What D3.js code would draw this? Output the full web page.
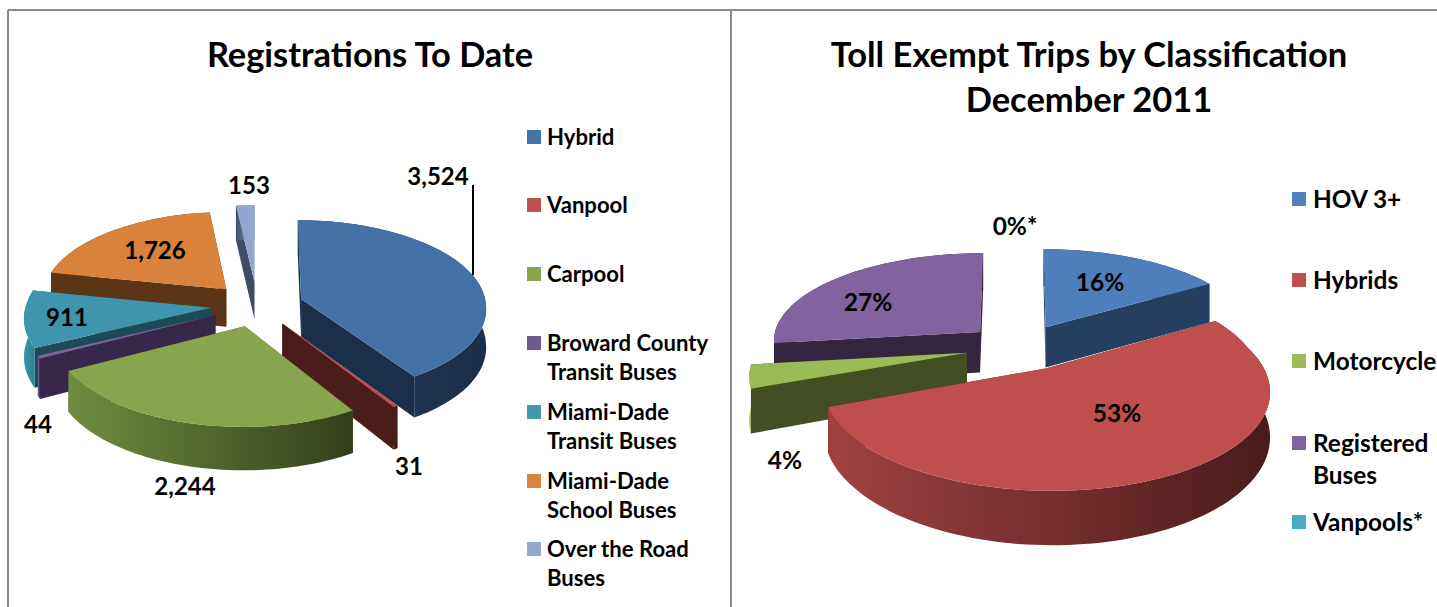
<!DOCTYPE html>
<html>
<head>
<meta charset="utf-8">
<script src="https://cdn.jsdelivr.net/npm/d3@7"></script>
<style>
    body { margin: 0; background: #fff; overflow: hidden; }
    text { font-family: Lato, "Open Sans", sans-serif; font-weight: 700; fill: #000; }
</style>
</head>
<body>
<div id="chart"></div>
<script>
// left chart data
const regCategories = ["Hybrid", "Vanpool", "Carpool", "Broward County|Transit Buses", "Miami-Dade|Transit Buses", "Miami-Dade|School Buses", "Over the Road|Buses"];
const regValues = [3524, 31, 2244, 44, 911, 1726, 153];
const regLabels = ["3,524", "31", "2,244", "44", "911", "1,726", "153"];

// right chart data
const tripCategories = ["HOV 3+", "Hybrids", "Motorcycle", "Registered|Buses", "Vanpools*"];
const tripValues = [16, 53, 4, 27, 0];
const tripLabels = ["16%", "53%", "4%", "27%", "0%*"];

var svg = d3.select("#chart").append("svg").attr("width", 1437).attr("height", 607).style("display", "block");
var defs = svg.append("defs");
var gradCount = 0;

// frame
function frameLine(x1, y1, x2, y2) {
    svg.append("line").attr("x1", x1).attr("y1", y1).attr("x2", x2).attr("y2", y2)
        .attr("stroke", "#8a8a8a").attr("stroke-width", 2);
}
frameLine(8, 10, 1437, 10);
frameLine(8, 10, 8, 607);
frameLine(731, 10, 731, 607);

function title(lines, x, ys, size) {
    lines.forEach(function (t, i) {
        svg.append("text").attr("x", x).attr("y", ys[i]).attr("text-anchor", "middle")
            .style("font-size", size + "px").text(t);
    });
}
title(["Registrations To Date"], 370, [67], 34.4);
title(["Toll Exempt Trips by Classification", "December 2011"], 1089, [67, 112], 34.5);

function drawPie(values, labels, cfg) {
    var slices = d3.pie().value(d => d).sort(null)(values);

    var xScale = d3.scaleLinear().domain([-1, 1]).range([cfg.cx - cfg.rx, cfg.cx + cfg.rx]);
    var yScale = d3.scaleLinear().domain([-1, 1]).range([cfg.cy - cfg.ry, cfg.cy + cfg.ry]);
    var line = d3.line().x(d => d[0]).y(d => d[1]);

    // disk position to screen, near side is larger
    function project(u, v, down, nudge) {
        var k = v >= 0 ? 1 / (1 - cfg.pNear * v) : 1 / (1 - cfg.pFar * v);
        return [xScale(u * k), yScale(v * k) + down * k + nudge];
    }

    var order = d3.range(slices.length)
        .filter(i => slices[i].value > 0)
        .sort((a, b) => -Math.cos((slices[a].startAngle + slices[a].endAngle) / 2) + Math.cos((slices[b].startAngle + slices[b].endAngle) / 2));

    var g = svg.append("g");

    order.forEach(function (i) {
        var s = slices[i];
        var mid = (s.startAngle + s.endAngle) / 2;
        var u0 = Math.sin(mid) * cfg.explode;
        var v0 = -Math.cos(mid) * cfg.explode;
        var nudge = cfg.nudge[i];

        var steps = Math.max(2, Math.ceil((s.endAngle - s.startAngle) / 0.03));
        var angles = d3.range(steps + 1).map(j => s.startAngle + (s.endAngle - s.startAngle) * j / steps);

        function rim(down) {
            return angles.map(a => project(u0 + Math.sin(a), v0 - Math.cos(a), down, nudge));
        }
        var apexTop = project(u0, v0, 0, nudge);
        var apexBot = project(u0, v0, cfg.depth, nudge);
        var rimTop = rim(0);
        var rimBot = rim(cfg.depth);

        // two radial walls
        [0, rimTop.length - 1].forEach(function (e) {
            g.append("path")
                .attr("d", line([apexTop, rimTop[e], rimBot[e], apexBot]) + "Z")
                .attr("fill", cfg.wall[i]);
        });

        // outer wall with a left to right shade
        var id = "shade" + (gradCount++);
        var grad = defs.append("linearGradient").attr("id", id);
        grad.append("stop").attr("offset", "0%").attr("stop-color", cfg.outer[i][0]);
        grad.append("stop").attr("offset", "100%").attr("stop-color", cfg.outer[i][1]);
        g.append("path")
            .attr("d", line(rimTop.concat(rimBot.slice().reverse())) + "Z")
            .attr("fill", "url(#" + id + ")");

        // top
        g.append("path")
            .attr("d", line([apexTop].concat(rimTop)) + "Z")
            .attr("fill", cfg.top[i]);
    });

    // value labels
    labels.forEach(function (t, i) {
        svg.append("text").attr("x", cfg.labelX[i]).attr("y", cfg.labelY[i])
            .attr("text-anchor", "middle").attr("dy", "0.35em")
            .style("font-size", cfg.labelSize + "px").text(t);
    });
}

function drawLegend(categories, colors, x, ys, size, textGap, lineGap) {
    categories.forEach(function (c, i) {
        var parts = c.split("|");
        svg.append("rect").attr("x", x).attr("y", ys[i] - 7).attr("width", 14).attr("height", 14).attr("fill", colors[i]);
        parts.forEach(function (p, j) {
            svg.append("text").attr("x", x + textGap).attr("y", ys[i] + j * lineGap).attr("dy", "0.35em")
                .style("font-size", size + "px").text(p);
        });
    });
}

const regColors = ["#4572a7", "#c0504d", "#89a54e", "#71588f", "#4198af", "#db843d", "#93a9cf"];
drawPie(regValues, regLabels, {
    cx: 257, cy: 305, rx: 185, ry: 86, depth: 38, explode: 0.25, pNear: 0.1, pFar: 0.08,
    nudge: [0, 0, 0, 0, 0, 0, -2],
    top: ["#4472a6", "#c0504d", "#88a44e", "#7c65a0", "#3f95ae", "#d9823c", "#90a7cf"],
    wall: ["#1b2f4a", "#4a1c1a", "#3f4c22", "#37274a", "#1c4a56", "#5c3416", "#3d4d66"],
    outer: [["#24405f", "#1b2d48"], ["#4a1c1a", "#4a1c1a"], ["#708c40", "#343f1b"], ["#7a6a9a", "#37274a"], ["#3e93ad", "#2f7c93"], ["#5c3416", "#5c3416"], ["#3d4d66", "#90a7cf"]],
    labelX: [438, 409, 185, 38, 67, 155, 249],
    labelY: [177, 467, 487, 425, 318, 251, 186],
    labelSize: 24
});
drawLegend(regCategories, regColors, 527, [137, 205, 274, 343, 412, 481, 549], 22.1, 20, 29.5);

const tripColors = ["#4f81bd", "#c0504d", "#9bbb59", "#8064a2", "#4bacc6"];
drawPie(tripValues, tripLabels, {
    cx: 1020, cy: 347, rx: 208, ry: 88, depth: 41, explode: 0.26, pNear: 0.2, pFar: 0.085,
    nudge: [0, 0, 0, 0, 0],
    top: ["#4f7fba", "#bf4f4c", "#9bbb59", "#80639f", "#4bacc6"],
    wall: ["#253f60", "#4a1b1b", "#434f22", "#35263f", "#245866"],
    outer: [["#253f60", "#253f60"], ["#a04240", "#4a1b1b"], ["#9bbb59", "#9bbb59"], ["#35263f", "#35263f"], ["#245866", "#245866"]],
    labelX: [1100, 1117, 785, 868, 1015],
    labelY: [282, 413, 460, 302, 226],
    labelSize: 24.5
});
drawLegend(tripCategories, tripColors, 1292, [199, 280, 361, 443, 522], 24.4, 21, 32);

// leader line for the hybrid slice
svg.append("line").attr("x1", 473).attr("y1", 185).attr("x2", 473).attr("y2", 275)
    .attr("stroke", "#000").attr("stroke-width", 2);
</script>
</body>
</html>
